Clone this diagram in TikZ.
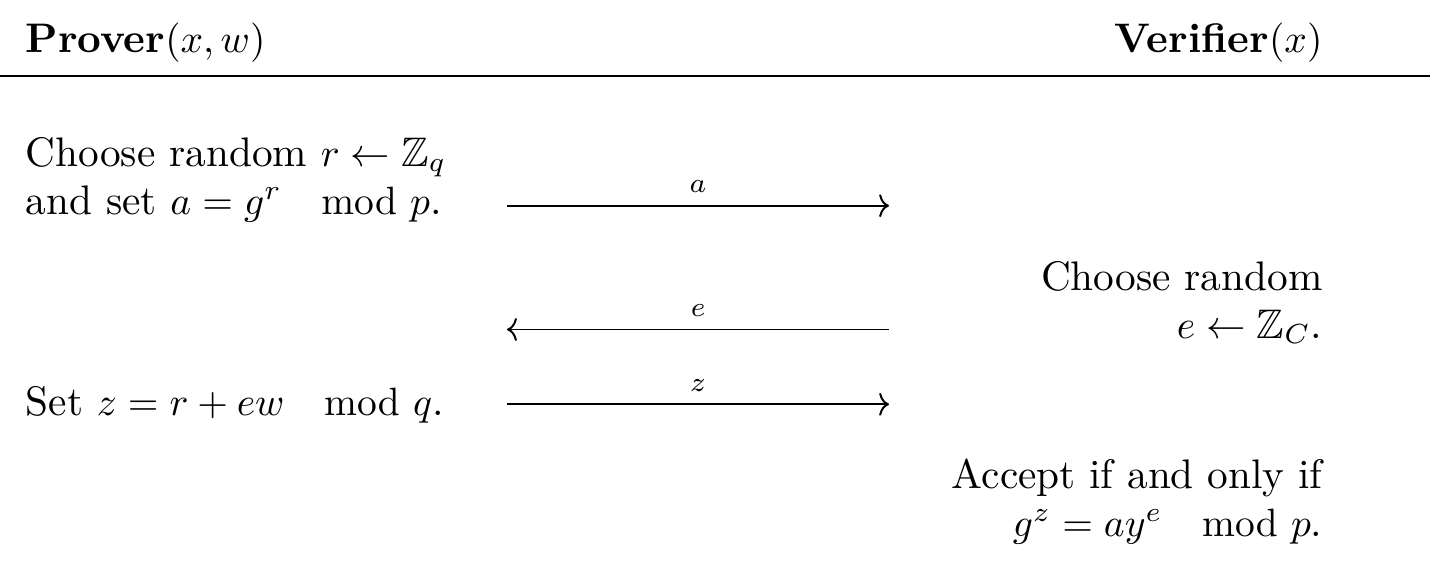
\documentclass[tikz,border=0pt]{standalone}
\usepackage{amsmath,amssymb}
\usetikzlibrary{arrows.meta}
\newcommand{\bigmod}[1]{\mkern18mu{\mathrm{mod}}\,\,#1}
\begin{document}
\begin{tikzpicture}[inner sep=0pt,font=\fontsize{10.45}{12}\selectfont]
		\useasboundingbox (0,0) rectangle (12.72,-5);
		\node[anchor=base west] (prover) at (0.222,-0.471) {\textbf{Prover}$(x,w)$};
		\node[anchor=base east] (verifier) at (11.77,-0.471) {\textbf{Verifier}$(x)$};
		\coordinate (ruleL) at (0,-0.676);
		\coordinate (ruleR) at (12.72,-0.676);
		\draw[line width=0.6pt] (ruleL) -- (ruleR);
		
		\node[anchor=base west] (commit1) at (0.222,-1.477) {Choose random $r \leftarrow \mathbb{Z}_q$};
		\node[anchor=base west] (commit2) at (0.222,-1.904) {and set $a = g^r \bigmod{p}$.};
		\node[anchor=base east] (chal1) at (11.77,-2.58) {Choose random};
		\node[anchor=base east] (chal2) at (11.77,-3.007) {$e \leftarrow \mathbb{Z}_C$.};
		\node[anchor=base west] (resp) at (0.222,-3.692) {Set $z = r + ew \bigmod{q}$.};
		\node[anchor=base east] (check1) at (11.77,-4.341) {Accept if and only if};
		\node[anchor=base east] (check2) at (11.77,-4.768) {$g^z = ay^e \bigmod{p}$.};
		
		\coordinate (aL) at (4.51,-1.83);
		\coordinate (aR) at (7.908,-1.83);
		\coordinate (eL) at (4.51,-2.931);
		\coordinate (eR) at (7.908,-2.931);
		\coordinate (zL) at (4.51,-3.596);
		\coordinate (zR) at (7.908,-3.596);
		\draw[line width=0.5pt,-{To[length=2.5pt,width=5.8pt]}] (aL) -- node[above=3pt] {$\scriptstyle a$} (aR);
		\draw[line width=0.5pt,-{To[length=2.5pt,width=5.8pt]}] (eR) -- node[above=3pt] {$\scriptstyle e$} (eL);
		\draw[line width=0.5pt,-{To[length=2.5pt,width=5.8pt]}] (zL) -- node[above=3pt] {$\scriptstyle z$} (zR);
	\end{tikzpicture}
\end{document}
